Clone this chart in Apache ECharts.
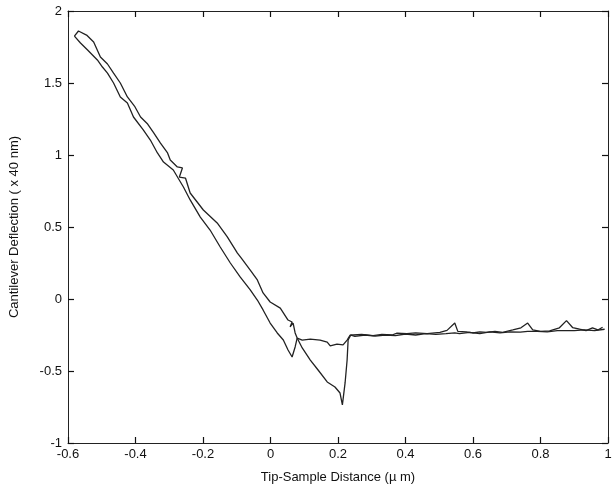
<!DOCTYPE html>
<html>
<head>
<meta charset="utf-8">
<script src="https://cdn.jsdelivr.net/npm/echarts@6/dist/echarts.min.js"></script>
<style>
  html, body { margin: 0; padding: 0; background: #fff; }
  #main { width: 615px; height: 490px; }
</style>
</head>
<body>
<div id="main"></div>
<script>
// tick values
var xTicks = [-0.6, -0.4, -0.2, 0, 0.2, 0.4, 0.6, 0.8, 1];
var yTicks = [-1, -0.5, 0, 0.5, 1, 1.5, 2];

// approach curve: contact line (left), snap-in, flat part
var approach = [
  [-0.581, 1.826], [-0.563, 1.778], [-0.542, 1.729], [-0.513, 1.660], [-0.498, 1.611],
  [-0.483, 1.569], [-0.465, 1.500], [-0.445, 1.403], [-0.424, 1.361], [-0.406, 1.264],
  [-0.377, 1.174], [-0.356, 1.104], [-0.335, 1.014], [-0.317, 0.951], [-0.288, 0.896],
  [-0.258, 0.778], [-0.238, 0.688], [-0.208, 0.569], [-0.179, 0.479], [-0.149, 0.361],
  [-0.119, 0.250], [-0.090, 0.153], [-0.060, 0.063], [-0.039, -0.007], [-0.022, -0.076],
  [-0.001, -0.167], [0.020, -0.236], [0.038, -0.285], [0.052, -0.354], [0.064, -0.403],
  [0.073, -0.333], [0.079, -0.271], [0.094, -0.285], [0.118, -0.278], [0.147, -0.285],
  [0.168, -0.299], [0.177, -0.326], [0.197, -0.313], [0.215, -0.319], [0.227, -0.285],
  [0.236, -0.250], [0.25, -0.26], [0.28, -0.25], [0.31, -0.258], [0.34, -0.25],
  [0.37, -0.255], [0.40, -0.243], [0.43, -0.25], [0.46, -0.24], [0.49, -0.245],
  [0.52, -0.24], [0.546, -0.235], [0.56, -0.24], [0.59, -0.232], [0.62, -0.24],
  [0.65, -0.228], [0.68, -0.235], [0.71, -0.228], [0.74, -0.23], [0.762, -0.225],
  [0.79, -0.225], [0.82, -0.228], [0.85, -0.22], [0.877, -0.22], [0.90, -0.22],
  [0.93, -0.215], [0.96, -0.22], [0.99, -0.21]
];

// retract curve: contact line (right), adhesion dip, snap-off, flat part
var retract = [
  [-0.581, 1.826], [-0.569, 1.861], [-0.545, 1.833], [-0.524, 1.785], [-0.504, 1.681],
  [-0.483, 1.632], [-0.465, 1.569], [-0.445, 1.500], [-0.424, 1.403], [-0.403, 1.340],
  [-0.385, 1.264], [-0.364, 1.215], [-0.346, 1.153], [-0.326, 1.083], [-0.305, 1.014],
  [-0.297, 0.965], [-0.276, 0.917], [-0.261, 0.910], [-0.270, 0.847], [-0.252, 0.840],
  [-0.238, 0.736], [-0.199, 0.618], [-0.158, 0.528], [-0.128, 0.431], [-0.098, 0.319],
  [-0.087, 0.285], [-0.060, 0.201], [-0.039, 0.132], [-0.022, 0.042], [-0.001, -0.021],
  [0.029, -0.063], [0.052, -0.146], [0.064, -0.160], [0.058, -0.194], [0.067, -0.167],
  [0.073, -0.236], [0.079, -0.271], [0.094, -0.340], [0.118, -0.424], [0.141, -0.493],
  [0.168, -0.576], [0.191, -0.611], [0.206, -0.653], [0.213, -0.735], [0.221, -0.583],
  [0.227, -0.424], [0.230, -0.285], [0.238, -0.250], [0.245, -0.25], [0.27, -0.245],
  [0.304, -0.255], [0.33, -0.245], [0.36, -0.25], [0.375, -0.237], [0.404, -0.24],
  [0.43, -0.235], [0.464, -0.24], [0.502, -0.232], [0.523, -0.218], [0.546, -0.167],
  [0.555, -0.225], [0.58, -0.228], [0.599, -0.236], [0.62, -0.228], [0.641, -0.232],
  [0.665, -0.225], [0.688, -0.232], [0.718, -0.215], [0.742, -0.2], [0.762, -0.167],
  [0.777, -0.215], [0.80, -0.225], [0.827, -0.222], [0.856, -0.2], [0.877, -0.15],
  [0.895, -0.198], [0.916, -0.21], [0.935, -0.22], [0.954, -0.2], [0.97, -0.215],
  [0.984, -0.196]
];

var chartDom = document.getElementById('main');
var myChart = echarts.init(chartDom);
var font = 'Liberation Sans, Arial, sans-serif';
var lineCol = '#222';

// each axis gets its own copy, shared objects hid the ticks
function tickStyle() {
  return { show: true, inside: true, length: 6, lineStyle: { color: '#111', width: 1.2 } };
}
function axisLine() {
  return { show: true, onZero: false, lineStyle: { color: lineCol, width: 1 } };
}

var option = {
  animation: false,
  backgroundColor: '#fff',
  grid: { left: 67, right: 7, top: 11, bottom: 47, containLabel: false },
  xAxis: [
    {
      type: 'value',
      min: xTicks[0],
      max: xTicks[xTicks.length - 1],
      interval: 0.2,
      position: 'bottom',
      axisLine: axisLine(),
      axisTick: tickStyle(),
      splitLine: { show: false },
      axisLabel: {
        color: '#111', fontFamily: font, fontSize: 13, margin: 5,
        formatter: function (v) { return String(Math.round(v * 10) / 10); }
      },
      name: 'Tip-Sample Distance (\u00b5 m)',
      nameLocation: 'middle',
      nameGap: 28,
      nameTextStyle: { color: '#111', fontFamily: font, fontSize: 13 }
    },
    {
      type: 'value',
      min: xTicks[0],
      max: xTicks[xTicks.length - 1],
      interval: 0.2,
      position: 'top',
      axisLine: axisLine(),
      axisTick: tickStyle(),
      axisLabel: { show: false },
      splitLine: { show: false }
    }
  ],
  yAxis: [
    {
      type: 'value',
      min: yTicks[0],
      max: yTicks[yTicks.length - 1],
      interval: 0.5,
      position: 'left',
      axisLine: axisLine(),
      axisTick: tickStyle(),
      splitLine: { show: false },
      axisLabel: {
        color: '#111', fontFamily: font, fontSize: 13, margin: 6,
        formatter: function (v) { return String(Math.round(v * 10) / 10); }
      },
      name: 'Cantilever Deflection ( x 40 nm)',
      nameLocation: 'middle',
      nameGap: 47,
      nameRotate: 90,
      nameTextStyle: { color: '#111', fontFamily: font, fontSize: 13 }
    },
    {
      type: 'value',
      min: yTicks[0],
      max: yTicks[yTicks.length - 1],
      interval: 0.5,
      position: 'right',
      axisLine: axisLine(),
      axisTick: tickStyle(),
      axisLabel: { show: false },
      splitLine: { show: false }
    }
  ],
  series: [
    {
      name: 'approach',
      type: 'line',
      data: approach,
      showSymbol: false,
      symbol: 'none',
      lineStyle: { color: lineCol, width: 1.3 }
    },
    {
      name: 'retract',
      type: 'line',
      data: retract,
      showSymbol: false,
      symbol: 'none',
      lineStyle: { color: lineCol, width: 1.3 }
    }
  ]
};

option && myChart.setOption(option);
</script>
</body>
</html>
